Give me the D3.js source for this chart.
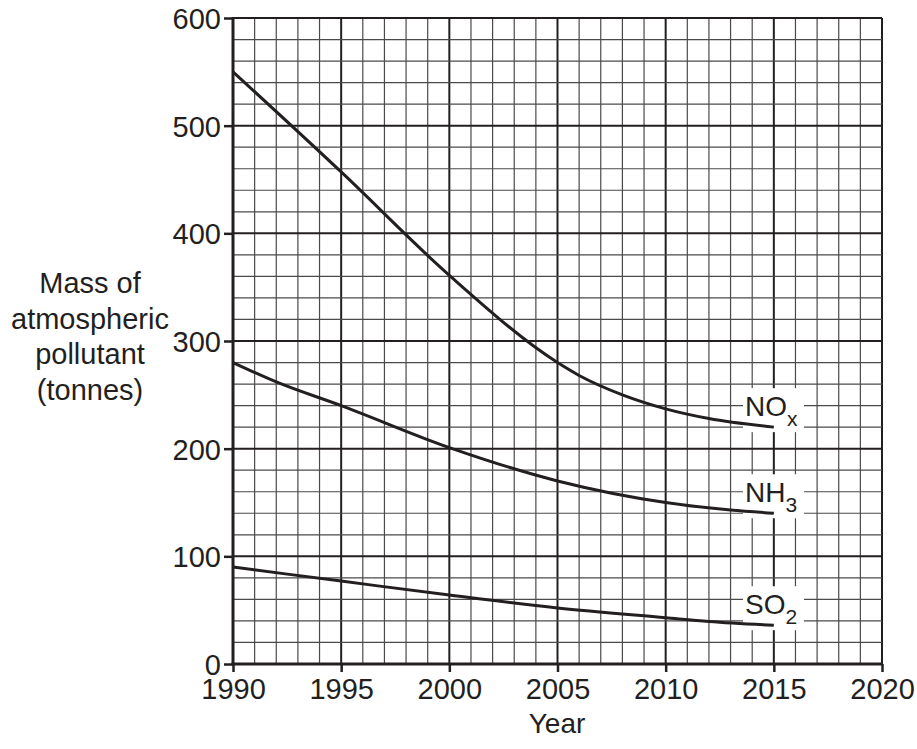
<!DOCTYPE html>
<html>
<head>
<meta charset="utf-8">
<script src="https://cdn.jsdelivr.net/npm/d3@7/dist/d3.min.js"></script>
<style>
	body { margin:0; background:#fff; }
	svg { display:block; font-family:"Liberation Sans", Arial, sans-serif; }
	text { fill:#231f20; }
</style>
</head>
<body>
<svg id="chart" width="917" height="749"></svg>
<script>
var ink = "#231f20";

// values (year, tonnes)
var years_nox = [1990, 1995, 2000, 2005, 2006, 2008, 2010, 2012, 2015];
var nox = [550, 457, 361, 280, 268, 250, 237, 228, 220];

var years_nh3 = [1990, 1992, 1995, 2000, 2005, 2010, 2013, 2015];
var nh3 = [280, 262, 240, 201, 170, 150, 143, 140];

var years_so2 = [1990, 1995, 2000, 2005, 2010, 2012, 2015];
var so2 = [90, 77, 64, 52, 43, 39.5, 36];

var xTicks = [1990, 1995, 2000, 2005, 2010, 2015, 2020];
var yTicks = [0, 100, 200, 300, 400, 500, 600];

var seriesLabels = [
	{ name:"NO", sub:"x", data:nox, years:years_nox },
	{ name:"NH", sub:"3", data:nh3, years:years_nh3 },
	{ name:"SO", sub:"2", data:so2, years:years_so2 }
];

var titleLines = ["Mass of", "atmospheric", "pollutant", "(tonnes)"];

var svg = d3.select("#chart");

var x = d3.scaleLinear().domain([1990, 2020]).range([233, 882]);
var y = d3.scaleLinear().domain([0, 600]).range([664, 18]);

/**
 * graph paper: thin line each year / 20 tonnes, heavy line each 5 years / 100 tonnes
 */
var grid = svg.append("g");
d3.range(1990, 2021, 1).forEach(function (yr) {
	var major = (yr % 5 === 0);
	grid.append("line")
		.attr("x1", x(yr)).attr("x2", x(yr))
		.attr("y1", y(0)).attr("y2", y(600))
		.attr("stroke", major ? ink : "#4a4a4a")
		.attr("stroke-width", major ? 2 : 1.2);
});
d3.range(0, 601, 20).forEach(function (v) {
	var major = (v % 100 === 0);
	grid.append("line")
		.attr("x1", x(1990)).attr("x2", x(2020))
		.attr("y1", y(v)).attr("y2", y(v))
		.attr("stroke", major ? ink : "#4a4a4a")
		.attr("stroke-width", major ? 2 : 1.2);
});

/**
 * axes with outward ticks
 */
var yAxis = d3.axisLeft(y).tickValues(yTicks).tickSize(9).tickPadding(3).tickFormat(d3.format("d"));
var xAxis = d3.axisBottom(x).tickValues(xTicks).tickSize(8).tickPadding(4).tickFormat(d3.format("d"));

var gy = svg.append("g").attr("transform", "translate(" + x(1990) + ",0)").call(yAxis);
var gx = svg.append("g").attr("transform", "translate(0," + y(0) + ")").call(xAxis);

[gx, gy].forEach(function (g) {
	g.select(".domain").remove();
	g.selectAll(".tick line").attr("stroke", ink).attr("stroke-width", 2.5);
	g.selectAll(".tick text").attr("fill", ink).style("font-size", "29px").style("font-family", null);
	g.attr("font-family", null).attr("font-size", null);
});
gy.selectAll(".tick text").attr("dy", "0.36em");
gx.selectAll(".tick text").attr("dy", "0.8em");

// heavy axis lines
svg.append("line")
	.attr("x1", x(1990)).attr("x2", x(1990)).attr("y1", y(600) - 1).attr("y2", y(0) + 1.5)
	.attr("stroke", ink).attr("stroke-width", 3);
svg.append("line")
	.attr("x1", x(1990) - 1.5).attr("x2", x(2020) + 1).attr("y1", y(0)).attr("y2", y(0))
	.attr("stroke", ink).attr("stroke-width", 3);

/**
 * white patches behind the formula labels, then the curves and the labels
 */
var line = d3.line()
	.x(function (d) { return x(d[0]); })
	.y(function (d) { return y(d[1]); })
	.curve(d3.curveMonotoneX);

seriesLabels.forEach(function (s) {
	var endV = s.data[s.data.length - 1];
	svg.append("rect")
		.attr("x", 743).attr("y", y(endV) - 39)
		.attr("width", 61).attr("height", 44)
		.attr("fill", "#fff");
});

seriesLabels.forEach(function (s) {
	var pts = s.years.map(function (yr, i) { return [yr, s.data[i]]; });
	svg.append("path")
		.datum(pts)
		.attr("d", line)
		.attr("fill", "none")
		.attr("stroke", ink)
		.attr("stroke-width", 3);

	var endV = s.data[s.data.length - 1];
	var t = svg.append("text")
		.attr("x", 745)
		.attr("y", y(endV) - 11)
		.style("font-size", "28px");
	t.append("tspan").text(s.name);
	t.append("tspan").attr("dy", 10).style("font-size", "21px").text(s.sub);
});

/**
 * axis titles
 */
svg.append("g").selectAll("text")
	.data(titleLines)
	.join("text")
	.attr("x", 90)
	.attr("y", function (d, i) { return 293 + i * 35.5; })
	.attr("text-anchor", "middle")
	.style("font-size", "29px")
	.text(function (d) { return d; });

svg.append("text")
	.attr("x", 557)
	.attr("y", 733)
	.attr("text-anchor", "middle")
	.style("font-size", "28px")
	.text("Year");
</script>
</body>
</html>
